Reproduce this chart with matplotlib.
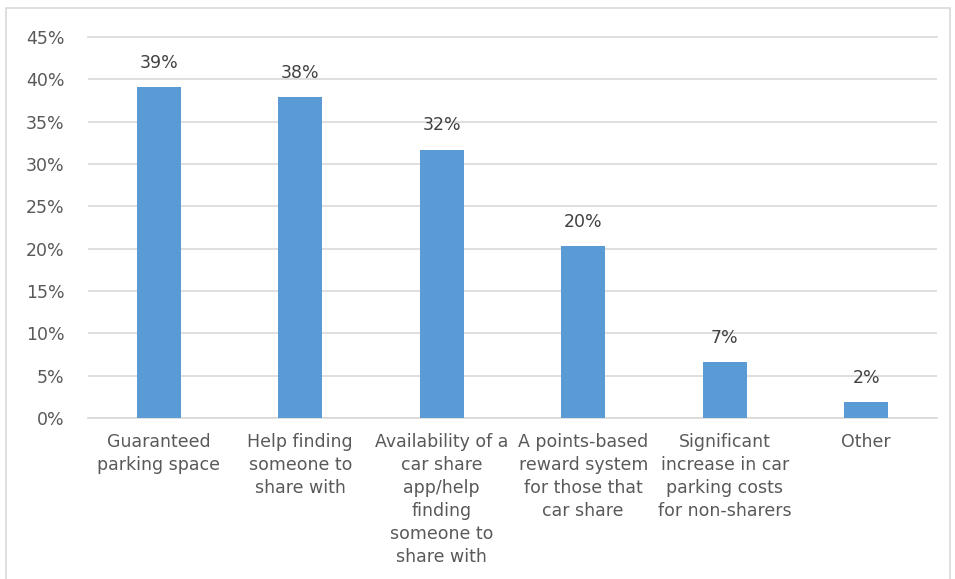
import matplotlib
matplotlib.use('agg')
import matplotlib.pyplot as plt
from matplotlib.patches import Rectangle
import matplotlib.ticker

categories = ["Guaranteed\nparking space",
              "Help finding\nsomeone to\nshare with",
              "Availability of a\ncar share\napp/help\nfinding\nsomeone to\nshare with",
              "A points-based\nreward system\nfor those that\ncar share",
              "Significant\nincrease in car\nparking costs\nfor non-sharers",
              "Other"]
values = [0.391, 0.379, 0.317, 0.203, 0.066, 0.019]
labels = ["39%", "38%", "32%", "20%", "7%", "2%"]

text_color = "#595959"
plt.rcParams['font.family'] = ['DejaVu Sans']

fig = plt.figure(figsize=(9.55, 5.79), dpi=100)
ax = fig.add_axes([88/955, 1-418/579, (937-88)/955, (418-37)/579])

# chart border
fig.patches.append(Rectangle((6/955, -0.1), (950-6)/955, 1.1 - 8/579,
                             transform=fig.transFigure, fill=False,
                             edgecolor="#D9D9D9", linewidth=1.2))

x = range(len(categories))
ax.bar(x, values, width=0.31, color="#5B9BD5", zorder=3)
for i, v in enumerate(values):
    ax.annotate(labels[i], (i, v), xytext=(0, 11), textcoords="offset points",
                ha="center", va="bottom", fontsize=12.5, color="#404040")

ax.set_xlim(-0.5, len(categories) - 0.5)
ax.set_ylim(0, 0.45)
ax.set_yticks([i * 0.05 for i in range(10)])
ax.yaxis.set_major_formatter(matplotlib.ticker.FuncFormatter(lambda v, p: f"{v*100:.0f}%"))
ax.set_xticks(list(x))
ax.set_xticklabels(categories, fontsize=12.5, color=text_color, linespacing=1.36)
ax.tick_params(axis="y", labelsize=12.5, labelcolor=text_color, length=0, pad=17)
ax.tick_params(axis="x", length=0, pad=11)
ax.grid(axis="y", color="#D9D9D9", linewidth=1.2, zorder=0)
ax.set_axisbelow(True)
for side in ["top", "right", "left"]:
    ax.spines[side].set_visible(False)
ax.spines["bottom"].set_color("#D9D9D9")
ax.spines["bottom"].set_linewidth(1.2)
ax.yaxis.get_gridlines()[-1].set_clip_on(False)

plt.savefig("out.png", dpi=100)
